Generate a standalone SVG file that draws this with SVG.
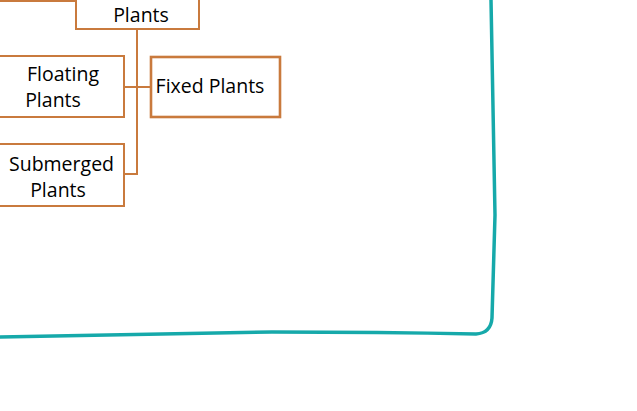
<svg xmlns="http://www.w3.org/2000/svg" width="637" height="411" viewBox="0 0 637 411">
<style>
.box{fill:#fff;stroke:#C97A3D;stroke-width:2}
.thick{stroke-width:2.6}
.lbl{font-family:"Open Sans","Noto Sans",sans-serif;font-size:19.5px;font-weight:500;fill:#000;text-anchor:middle}
.conn{fill:none;stroke:#C97A3D;stroke-width:2}
</style>
<rect width="637" height="411" fill="#fff"/>
<path d="M491,0 L495,215 L492,318 Q491,333 476,334 Q380,332 272,332 Q140,334 0,337" fill="none" stroke="#16A9AA" stroke-width="3.5" stroke-linecap="round" stroke-linejoin="round"/>
<g id="connectors">
<path class="conn" d="M0,1 H76"/>
<path class="conn" d="M137,29 V174 H124"/>
<path class="conn" d="M124,87 H151"/>
</g>
<g id="plants">
<rect class="box" x="76" y="-5" width="123" height="34"/>
<text class="lbl" x="141" y="22">Plants</text>
</g>
<g id="floating">
<rect class="box" x="-2" y="56" width="126" height="61"/>
<text class="lbl" x="63" y="81">Floating</text>
<text class="lbl" x="53" y="107">Plants</text>
</g>
<g id="fixed">
<rect class="box thick" x="151" y="57" width="129" height="60"/>
<text class="lbl" x="210" y="93">Fixed Plants</text>
</g>
<g id="submerged">
<rect class="box" x="-2" y="144" width="126" height="62"/>
<text class="lbl" x="61.5" y="171">Submerged</text>
<text class="lbl" x="58" y="197">Plants</text>
</g>
</svg>
